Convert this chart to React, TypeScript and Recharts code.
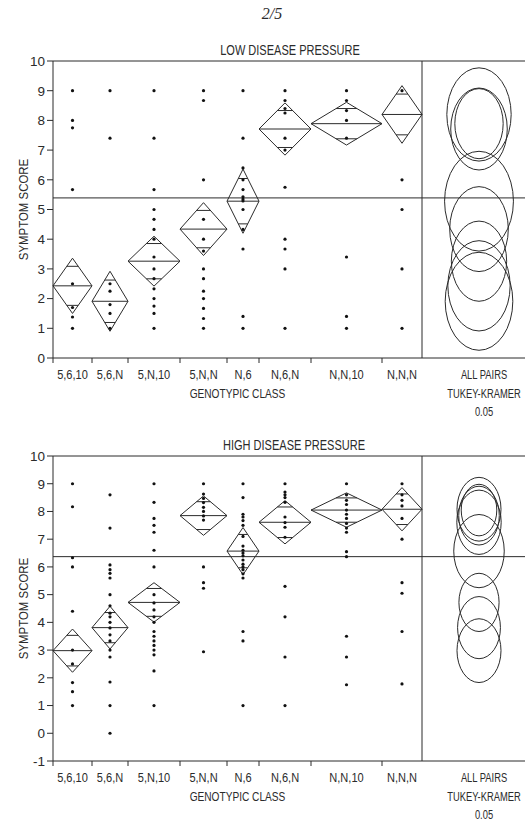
import React from "react";
import {
  ComposedChart, XAxis, YAxis, Scatter, ReferenceLine, ReferenceArea,
} from "recharts";

// genotypic classes, x widths follow group size as in the original means-diamond plot
const classes = ["5,6,10", "5,6,N", "5,N,10", "5,N,N", "N,6", "N,6,N", "N,N,10", "N,N,N"];
const groupWidth = [39, 36, 52, 47, 32, 52, 71, 40];
const panelWidth = 103;   // comparison-circle panel on the right
const circleAt = 57;      // circle centre inside that panel
const panelTextAt = 62;   // "ALL PAIRS" label inside that panel

// LOW DISEASE PRESSURE
const lowScores: number[][] = [
  [9, 8, 7.75, 5.67, 2.5, 1.7, 1.38, 1],
  [9, 7.4, 2.5, 2.25, 1.8, 1.5, 1],
  [9, 7.4, 5.67, 5, 4.67, 4.33, 4, 3.4, 3, 2.67, 2.33, 2, 1.75, 1.5, 1],
  [9, 8.67, 6, 4.67, 4, 3.6, 3, 2.67, 2.25, 2, 1.67, 1.33, 1],
  [9, 7.4, 6.4, 6, 5.67, 5.43, 5.35, 5.29, 5, 4.33, 3.67, 1.4, 1],
  [9, 8.67, 8.4, 8.25, 7.4, 7, 5.75, 4, 3.67, 3, 1],
  [9, 8.67, 8.33, 8, 7.4, 3.4, 1.4, 1],
  [9, 6, 5, 3, 1],
];
const lowMean = [2.43, 1.91, 3.26, 4.34, 5.28, 7.71, 7.89, 8.2];
const lowCI = [0.93, 1.01, 0.84, 0.89, 1.08, 0.88, 0.72, 0.97];
const lowCircle = [1.52, 1.65, 1.35, 1.43, 1.68, 1.38, 1.18, 1.57];
const lowGrand = 5.39;

// HIGH DISEASE PRESSURE
const highScores: number[][] = [
  [9, 8.17, 6.33, 6, 4.4, 3, 2.5, 1.83, 1.5, 1],
  [8.6, 7.4, 6.07, 5.9, 5.77, 5.6, 5, 4.6, 4.33, 4.2, 4, 3.8, 3.55, 3.33, 3, 2.75, 1.85, 1, 0],
  [9, 8.33, 7.75, 7.5, 7.25, 6.6, 6, 5, 4.7, 4.45, 4.2, 4, 3.67, 3.5, 3.33, 3.17, 3, 2.83, 2.25, 1],
  [9, 8.63, 8.47, 8.32, 8.15, 8, 7.84, 7.69, 6, 5.43, 5.23, 2.94],
  [9, 8.5, 7.9, 7.8, 7.67, 7.5, 7.1, 6.75, 6.6, 6.5, 6.4, 6.25, 6.1, 6, 5.9, 5.75, 5.6, 3.67, 3.33, 1],
  [9, 8.7, 8.6, 8.5, 8.33, 7.8, 7.6, 7.43, 7.07, 5.3, 4.2, 2.75, 1],
  [9, 8.6, 8.4, 8.25, 8.05, 7.9, 7.75, 7.57, 7.4, 7.25, 6.55, 6.37, 3.5, 2.75, 1.75],
  [9, 8.6, 8.4, 8.2, 7.75, 7, 5.43, 5.05, 3.67, 1.78],
];
const highMean = [2.98, 3.81, 4.72, 7.85, 6.57, 7.61, 8.05, 8.08];
const highCI = [0.78, 0.77, 0.71, 0.71, 0.85, 0.78, 0.62, 0.78];
const highCircle = [1.15, 1.12, 1.05, 1.06, 1.32, 1.16, 0.93, 1.15];
const highGrand = 6.37;

const INK = "#2b2b2b";
const FONT = "'Liberation Sans', Arial, sans-serif";
const ASPECT = 0.69; // scanned figure is squeezed sideways, circles come out as ellipses

const edges = groupWidth.reduce<number[]>((a, w) => [...a, a[a.length - 1] + w], [0]);
const total = edges[edges.length - 1];
const centers = groupWidth.map((w, i) => edges[i] + w / 2);

// one axis carries both the class boundary ticks and the centred labels
const tickEdges = edges.slice(0, -1);
const labelTicks = [...centers, total / 2, total + panelTextAt];
const labelLines: string[][] = [
  ...classes.map(c => [c]),
  ["", "GENOTYPIC CLASS"],
  ["ALL PAIRS", "TUKEY-KRAMER", "0.05"],
];
const allTicks = [...tickEdges, ...labelTicks].sort((a, b) => a - b);

function Squeezed({ x, y, size = 13, k = 0.8, rotate = 0, children }: any) {
  return (
    <text transform={`translate(${x},${y}) rotate(${rotate}) scale(${k},1)`}
      textAnchor="middle" fontSize={size} fontFamily={FONT} fill={INK}>{children}</text>
  );
}

const Dot = (p: any) => <circle cx={p.cx} cy={p.cy} r={1.6} fill="#111" />;

const Diamond = (p: any) => {
  const { x, y, width: w, height: h } = p;
  const cx = x + w / 2, cy = y + h / 2;
  const dy = (h / 2) * Math.SQRT1_2;         // overlap marks at CI / sqrt(2)
  const hw = (w / 2) * (1 - Math.SQRT1_2);
  return (
    <g fill="none" stroke={INK} strokeWidth={1}>
      <polygon points={`${x},${cy} ${cx},${y} ${x + w},${cy} ${cx},${y + h}`} />
      <line x1={x} y1={cy} x2={x + w} y2={cy} />
      <line x1={cx - hw} y1={cy - dy} x2={cx + hw} y2={cy - dy} />
      <line x1={cx - hw} y1={cy + dy} x2={cx + hw} y2={cy + dy} />
    </g>
  );
};

const Ring = (p: any) => {
  const ry = p.height / 2;
  return <ellipse cx={p.x + p.width / 2} cy={p.y + ry} rx={ry * ASPECT} ry={ry}
    fill="none" stroke={INK} strokeWidth={1} />;
};

const YTick = (p: any) => (
  <text x={p.x} y={p.y} dy={4.8} textAnchor="end" fontSize={13.5} fontFamily={FONT} fill={INK}>
    {p.payload.value}
  </text>
);

const XTick = (p: any) => {
  const v = p.payload.value;
  if (tickEdges.includes(v)) {
    return <line x1={p.x} y1={p.y} x2={p.x} y2={p.y + 5} stroke={INK} />;
  }
  const i = labelTicks.indexOf(v);
  const lines = labelLines[i] ?? [];
  const k = i < classes.length ? 0.85 : i === classes.length ? 0.78 : 0.72;
  return (
    <g>
      {lines.map((t, j) => t ? (
        <Squeezed key={j} x={p.x} y={p.y + 21 + j * 18.5} k={k}>{t}</Squeezed>
      ) : null)}
    </g>
  );
};

interface PanelProps {
  scores: number[][]; mean: number[]; ci: number[]; circle: number[];
  grand: number; yMin: number; height: number; top: number; axisH: number;
}

function Panel({ scores, mean, ci, circle, grand, yMin, height, top, axisH }: PanelProps) {
  const dots = scores.flatMap((g, i) => g.map(y => ({ x: centers[i], y })));
  const yTicks = Array.from({ length: 11 - yMin }, (_, i) => yMin + i);
  return (
    <ComposedChart width={525} height={height} margin={{ top, right: 0, bottom: 0, left: 0 }}>
      <XAxis type="number" dataKey="x" domain={[0, total + panelWidth]} allowDataOverflow
        ticks={allTicks} interval={0} tick={XTick} tickLine={false} tickSize={0} tickMargin={0}
        height={axisH} stroke={INK} />
      <YAxis type="number" domain={[yMin, 10]} allowDataOverflow ticks={yTicks} interval={0}
        width={53} tickSize={6} tickMargin={2} tick={YTick} stroke={INK}
        label={{
          content: (p: any) => (
            <Squeezed x={p.viewBox.x + 28} y={p.viewBox.y + p.viewBox.height / 2}
              rotate={-90} k={0.88}>SYMPTOM SCORE</Squeezed>
          ),
        }} />
      <ReferenceLine y={10} stroke={INK} />
      <ReferenceLine y={grand} stroke={INK} />
      <ReferenceLine x={total} stroke={INK} />
      {mean.map((m, i) => (
        <ReferenceArea key={`d${i}`} x1={edges[i]} x2={edges[i + 1]}
          y1={m - ci[i]} y2={m + ci[i]} ifOverflow="visible" shape={Diamond} />
      ))}
      {mean.map((m, i) => (
        <ReferenceArea key={`c${i}`} x1={total + circleAt - 5} x2={total + circleAt + 5}
          y1={m - circle[i]} y2={m + circle[i]} ifOverflow="visible" shape={Ring} />
      ))}
      <Scatter data={dots} dataKey="y" shape={Dot} isAnimationActive={false} />
    </ComposedChart>
  );
}

export default function App() {
  const title = (text: string, cx: number, cy: number) => (
    <div style={{
      position: "absolute", left: cx, top: cy, transform: "translate(-50%,-50%) scaleX(0.76)",
      font: `14.5px ${FONT}`, color: INK, whiteSpace: "nowrap",
    }}>{text}</div>
  );
  return (
    <div style={{ position: "absolute", left: 0, top: 0, width: 525, height: 821, background: "#fff", overflow: "hidden" }}>
      <div style={{
        position: "absolute", left: 272, top: 14, transform: "translate(-50%,-50%)",
        font: "italic 16px 'Liberation Serif', serif", color: INK,
      }}>2/5</div>
      {title("LOW DISEASE PRESSURE", 290, 50)}
      {title("HIGH DISEASE PRESSURE", 294, 445)}
      <div style={{ position: "absolute", left: 0, top: 0 }}>
        <Panel scores={lowScores} mean={lowMean} ci={lowCI} circle={lowCircle} grand={lowGrand}
          yMin={0} height={420} top={61} axisH={62} />
      </div>
      <div style={{ position: "absolute", left: 0, top: 420 }}>
        <Panel scores={highScores} mean={highMean} ci={highCI} circle={highCircle} grand={highGrand}
          yMin={-1} height={401} top={36} axisH={60} />
      </div>
    </div>
  );
}
